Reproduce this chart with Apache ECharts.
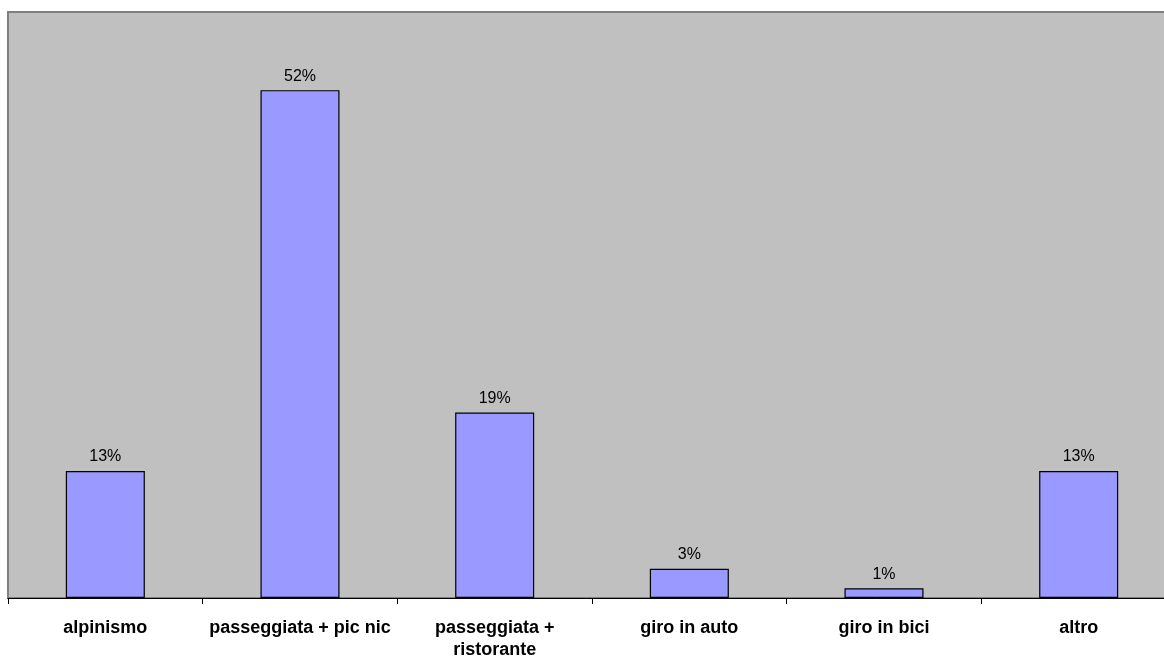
<!DOCTYPE html>
<html>
<head>
<meta charset="utf-8">
<script src="https://cdn.jsdelivr.net/npm/echarts@6/dist/echarts.min.js"></script>
<style>
  html, body { margin: 0; padding: 0; background: #fff; }
  #chart { width: 1164px; height: 656px; }
</style>
</head>
<body>
<div id="chart"></div>
<script>
// Activity categories and their shares (percent)
const categories = ['alpinismo', 'passeggiata + pic nic', 'passeggiata +\nristorante', 'giro in auto', 'giro in bici', 'altro'];
const shares = [13, 52, 19, 3, 1, 13];

const chart = echarts.init(document.getElementById('chart'));
chart.setOption({
  animation: false,
  grid: {
    left: 8, top: 12, width: 1168, height: 586,
    outerBoundsMode: 'none',
    containLabel: false,
    show: true,
    backgroundColor: '#C0C0C0',
    borderColor: '#808080',
    borderWidth: 2
  },
  xAxis: {
    type: 'category',
    data: categories,
    axisLine: { lineStyle: { color: '#000', width: 1 } },
    axisTick: { show: true, length: 6, lineStyle: { color: '#000' } },
    axisLabel: {
      margin: 19,
      fontFamily: 'Liberation Sans, Arial, sans-serif',
      fontWeight: 'bold',
      fontSize: 18,
      lineHeight: 22,
      color: '#000',
      interval: 0
    }
  },
  yAxis: {
    type: 'value',
    min: 0, max: 60,
    show: false,
    splitLine: { show: false }
  },
  series: [{
    type: 'bar',
    data: shares,
    barWidth: '40.6%',
    itemStyle: { color: '#9999FF', borderColor: '#000', borderWidth: 1.2 },
    label: {
      show: true,
      position: 'top',
      distance: 6,
      formatter: p => p.value + '%',
      fontFamily: 'Liberation Sans, Arial, sans-serif',
      fontSize: 16,
      color: '#000'
    }
  }]
});
</script>
</body>
</html>
